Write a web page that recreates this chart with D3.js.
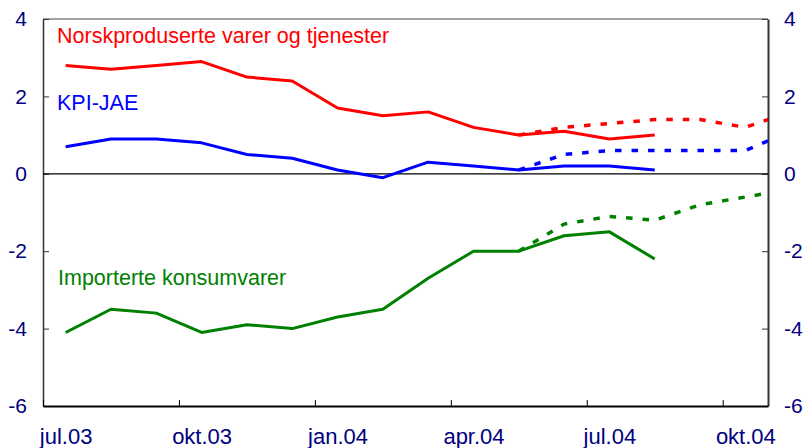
<!DOCTYPE html>
<html>
<head>
<meta charset="utf-8">
<script src="https://cdn.jsdelivr.net/npm/d3@7"></script>
<style>
  body { margin: 0; background: #fff; }
  svg { display: block; font-family: "Liberation Sans", Arial, sans-serif; }
</style>
</head>
<body>
<svg width="807" height="448"></svg>
<script>
// ---- Data (monthly, jul.03 .. okt.04)
const months = ["jul.03","aug.03","sep.03","okt.03","nov.03","des.03","jan.04","feb.04","mar.04",
                "apr.04","mai.04","jun.04","jul.04","aug.04","sep.04","okt.04"];
const tickMonths = ["jul.03","okt.03","jan.04","apr.04","jul.04","okt.04"];
const yTicks = [4, 2, 0, -2, -4, -6];

// actual values, from jul.03
const norsk = [2.8, 2.7, 2.8, 2.9, 2.5, 2.4, 1.7, 1.5, 1.6, 1.2, 1.0, 1.1, 0.9, 1.0];
const kpiJae = [0.7, 0.9, 0.9, 0.8, 0.5, 0.4, 0.1, -0.1, 0.3, 0.2, 0.1, 0.2, 0.2, 0.1];
const importerte = [-4.1, -3.5, -3.6, -4.1, -3.9, -4.0, -3.7, -3.5, -2.7, -2.0, -2.0, -1.6, -1.5, -2.2];

// projections (dotted), from mai.04
const progStart = 10;
const norskProg = [1.0, 1.2, 1.3, 1.4, 1.4, 1.2, 1.6];
const kpiJaeProg = [0.1, 0.5, 0.6, 0.6, 0.6, 0.6, 1.1];
const importerteProg = [-2.0, -1.3, -1.1, -1.2, -0.8, -0.6, -0.4];

const series = [
  { name: "Norskproduserte varer og tjenester", color: "#ff0000", values: norsk, prog: norskProg, lx: 57, ly: 43 },
  { name: "KPI-JAE", color: "#0000ff", values: kpiJae, prog: kpiJaeProg, lx: 57, ly: 110 },
  { name: "Importerte konsumvarer", color: "#008000", values: importerte, prog: importerteProg, lx: 58, ly: 285 }
];

// ---- Layout
const svg = d3.select('svg');
const m = { left: 43, right: 768, top: 19, bottom: 406 };

const x = d3.scaleLinear().domain([-0.5, months.length - 0.5]).range([m.left, m.right]);
const y = d3.scaleLinear().domain([-6, 4]).range([m.bottom, m.top]);
const halfMonth = (x(1) - x(0)) / 2;

svg.append('defs').append('clipPath').attr('id', 'plot')
  .append('rect').attr('x', m.left).attr('y', m.top)
  .attr('width', m.right - m.left).attr('height', m.bottom - m.top);

// ---- Axes
const tickColor = "#000080";
const yFmt = d => String(d); // plain hyphen minus, as in the original

svg.append('g')
  .attr('transform', `translate(${m.left},0)`)
  .call(d3.axisLeft(y).tickValues(yTicks).tickFormat(yFmt).tickSizeInner(-6).tickSizeOuter(0).tickPadding(16))
  .call(g => g.select('.domain').attr('stroke', '#333').attr('stroke-width', 1.5))
  .call(g => g.selectAll('.tick line').attr('stroke', '#333'))
  .call(g => g.selectAll('text').attr('fill', tickColor).attr('font-size', 21).attr('font-family', null));

svg.append('g')
  .attr('transform', `translate(${m.right},0)`)
  .call(d3.axisRight(y).tickValues(yTicks).tickFormat(yFmt).tickSizeInner(-6).tickSizeOuter(0).tickPadding(16))
  .call(g => g.select('.domain').attr('stroke', '#333').attr('stroke-width', 2))
  .call(g => g.selectAll('.tick line').attr('stroke', '#333'))
  .call(g => g.selectAll('text').attr('fill', tickColor).attr('font-size', 21).attr('font-family', null));

svg.append('g')
  .attr('transform', `translate(0,${m.bottom})`)
  .call(d3.axisBottom(x)
    .tickValues(tickMonths.map(t => months.indexOf(t) - 0.5))
    .tickFormat(d => months[d + 0.5])
    .tickSizeInner(-6).tickSizeOuter(0).tickPadding(22))
  .call(g => g.select('.domain').attr('stroke', '#000').attr('stroke-width', 2))
  .call(g => g.selectAll('.tick line').attr('stroke', '#000'))
  .call(g => g.selectAll('text').attr('x', halfMonth).attr('fill', tickColor)
    .attr('font-size', 22).attr('font-family', null));

// top border
svg.append('line')
  .attr('x1', m.left).attr('x2', m.right).attr('y1', m.top).attr('y2', m.top)
  .attr('stroke', '#444').attr('stroke-width', 1);

// zero line
svg.append('line')
  .attr('x1', m.left).attr('x2', m.right).attr('y1', y(0)).attr('y2', y(0))
  .attr('stroke', '#000').attr('stroke-width', 1.2);

// ---- Lines
const line = d3.line().x(d => x(d[0])).y(d => y(d[1]));
const plot = svg.append('g').attr('clip-path', 'url(#plot)');

series.forEach(s => {
  plot.append('path')
    .datum(s.prog.map((v, i) => [progStart + i, v]))
    .attr('d', line)
    .attr('fill', 'none')
    .attr('stroke', s.color)
    .attr('stroke-width', 3.5)
    .attr('stroke-dasharray', '6.5,10');

  plot.append('path')
    .datum(s.values.map((v, i) => [i, v]))
    .attr('d', line)
    .attr('fill', 'none')
    .attr('stroke', s.color)
    .attr('stroke-width', 3)
    .attr('stroke-linejoin', 'round');

  svg.append('text')
    .attr('x', s.lx).attr('y', s.ly)
    .attr('fill', s.color)
    .attr('font-size', 21.5)
    .text(s.name);
});
</script>
</body>
</html>
